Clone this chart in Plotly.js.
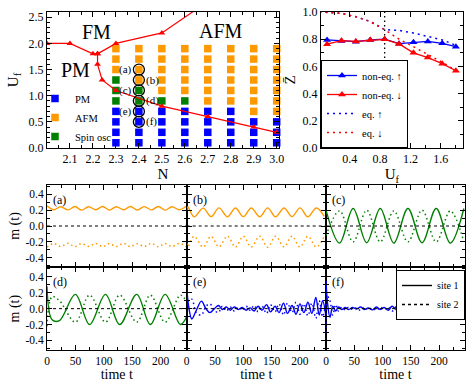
<!DOCTYPE html>
<html>
<head>
<meta charset="utf-8">
<script src="https://cdn.plot.ly/plotly-3.0.1.min.js"></script>
<style>
  html, body { margin: 0; padding: 0; background: #fff; }
  #chart { width: 474px; height: 382px; }
</style>
</head>
<body>
<div id="chart"></div>
<script>
/* phase diagram + Z-bar panel + six m(t) panels, all on one plotly figure */

// ---- phase diagram (N, U_f) ----
var phaseN = [2.3, 2.4, 2.5, 2.6, 2.7, 2.8, 2.9, 3.0];
var phaseU = [0.1, 0.3, 0.5, 0.7, 0.9, 1.1, 1.3, 1.5, 1.7, 1.9];
// one string per N column, U from 0.1 up to 1.9 : P = PM, A = AFM, S = spin osc
var phaseGrid = ["PPPPSSSAAA", "PPPPSSAAAA", "PPPPSAAAAA", "PPPPSAAAAA",
                 "PPPPAAAAAA", "PPPPAAAAAA", "PPPAAAAAAA", "PPPAAAAAAA"];
var fmN = [2.0, 2.1, 2.2, 2.22, 2.3, 2.5, 2.7];
var fmU = [2.0, 2.0, 1.8, 1.8, 2.0, 2.2, 2.8];
var pmN = [2.22, 2.22, 2.24, 2.3, 2.5, 2.7, 2.9, 3.0];
var pmU = [1.8, 1.6, 1.3, 1.1, 0.8, 0.6, 0.4, 0.3];
var circN = [2.4, 2.4, 2.4, 2.4, 2.4, 2.4];
var circU = [1.5, 1.3, 1.1, 0.9, 0.7, 0.5];
var circLabels = ["(a)", "(b)", "(c)", "(d)", "(e)", "(f)"];
var nTicks = [2.1, 2.2, 2.3, 2.4, 2.5, 2.6, 2.7, 2.8, 2.9, 3.0];
var nTickText = ["2.1", "2.2", "2.3", "2.4", "2.5", "2.6", "2.7", "2.8", "2.9", "3.0"];
var uTicks = [0, 0.5, 1.0, 1.5, 2.0, 2.5];
var uTickText = ["0.0", "0.5", "1.0", "1.5", "2.0", "2.5"];

// ---- Z-bar vs U_f ----
var zU = [0.1, 0.29, 0.48, 0.67, 0.86, 1.05, 1.24, 1.43, 1.62, 1.8];
var zUpNoneq = [0.795, 0.787, 0.782, 0.794, 0.800, 0.767, 0.777, 0.784, 0.770, 0.745];
var zDnNoneq = [0.763, 0.789, 0.784, 0.794, 0.799, 0.765, 0.700, 0.665, 0.620, 0.568];
var eqU = [0.0, 0.29, 0.48, 0.67, 0.86, 1.05, 1.24, 1.43, 1.62, 1.8];
var zUpEq = [1.0, 0.99, 0.965, 0.93, 0.87, 0.865, 0.845, 0.82, 0.795, 0.755];
var zDnEq = [1.0, 0.99, 0.965, 0.93, 0.87, 0.80, 0.745, 0.69, 0.63, 0.57];
var uCrit = 0.86;
var zxTicks = [0.4, 0.8, 1.2, 1.6];
var zxTickText = ["0.4", "0.8", "1.2", "1.6"];
var zyTicks = [0, 0.2, 0.4, 0.6, 0.8, 1.0];
var zyTickText = ["0.0", "0.2", "0.4", "0.6", "0.8", "1.0"];

// ---- m(t), site 1 / site 2 ----
var tA = [0, 12, 24, 37, 49, 61, 73, 86, 98, 110, 122, 135, 147, 159, 171, 184, 196, 208, 220, 233, 245];
var mA1 = [0.255, 0.205, 0.243, 0.203, 0.245, 0.2, 0.242, 0.205, 0.246, 0.2, 0.243, 0.204, 0.245, 0.201, 0.244, 0.203, 0.246, 0.2, 0.242, 0.205, 0.248];
var mA2 = [-0.265, -0.22, -0.258, -0.218, -0.26, -0.222, -0.257, -0.219, -0.26, -0.221, -0.258, -0.218, -0.26, -0.222, -0.257, -0.219, -0.26, -0.22, -0.258, -0.219, -0.26];

var tB = [0, 2, 13, 29, 43, 57, 72, 86, 100, 114, 129, 143, 157, 172, 186, 200, 214, 229, 243];
var mB1 = [0.2, 0.24, 0.115, 0.225, 0.118, 0.228, 0.115, 0.226, 0.118, 0.227, 0.116, 0.228, 0.115, 0.226, 0.118, 0.228, 0.115, 0.227, 0.12];
var mB2 = [-0.22, -0.26, -0.13, -0.265, -0.13, -0.262, -0.128, -0.265, -0.13, -0.263, -0.128, -0.266, -0.13, -0.262, -0.128, -0.265, -0.13, -0.264, -0.13];

var tC = [0, 24, 48, 72, 96, 120, 145, 170, 195, 220, 244];
var mC1 = [0.2, -0.215, 0.22, -0.21, 0.22, -0.215, 0.22, -0.21, 0.22, -0.215, 0.22];
var mC2 = [-0.12, 0.19, -0.2, 0.2, -0.2, 0.19, -0.2, 0.2, -0.2, 0.19, -0.2];

var tD = [0, 9, 22, 50, 75, 103, 128, 158, 182, 208, 235, 246];
var mD1 = [0.28, -0.14, -0.15, 0.18, -0.2, 0.18, -0.2, 0.18, -0.2, 0.18, -0.2, -0.1];
var mD2 = [-0.22, 0.15, 0.1, -0.17, 0.17, -0.17, 0.17, -0.17, 0.17, -0.17, 0.17, 0.08];

var tE = [0, 3, 9, 17, 26, 34, 41, 49, 56, 63, 70, 77, 84, 91, 98, 105, 112, 119, 126, 133, 141, 148, 156, 163, 171, 178, 186, 193, 200, 207, 214, 221, 228, 234, 240, 246];
var mE1 = [0.3, 0.05, -0.13, -0.02, 0.095, 0.0, -0.05, 0.0, 0.04, -0.01, 0.02, -0.02, 0.02, -0.01, 0.015, -0.02, 0.01, -0.03, 0.03, -0.02, 0.05, -0.04, 0.03, -0.05, 0.07, -0.06, 0.04, -0.07, 0.06, -0.05, 0.08, -0.06, 0.14, -0.08, 0.1, -0.1];
var mE2 = [-0.25, 0.1, 0.12, -0.05, -0.08, 0.03, 0.06, -0.02, -0.05, 0.03, -0.03, 0.02, -0.03, 0.02, -0.02, 0.03, -0.02, 0.04, -0.04, 0.03, -0.06, 0.05, -0.04, 0.06, -0.08, 0.07, -0.05, 0.08, -0.07, 0.06, -0.09, 0.07, -0.12, 0.1, -0.1, 0.1];

var tF = [0, 3, 7, 12, 17, 22, 28, 34, 40, 47, 54, 61, 68, 75, 82, 89, 96, 103, 110, 117, 124, 131, 138, 145, 152, 158, 164, 170, 177, 184, 191, 198, 205, 212, 219, 226, 233, 240, 246];
var mF1 = [0.35, 0.05, -0.11, 0.03, -0.03, 0.02, -0.01, 0.015, -0.01, 0.015, -0.005, 0.02, -0.01, 0.01, -0.015, 0.02, -0.01, 0.015, -0.02, 0.03, -0.01, 0.01, -0.02, 0.03, -0.03, 0.08, -0.04, 0.03, -0.02, 0.02, -0.01, 0.015, -0.01, 0.02, -0.015, 0.02, -0.01, 0.015, 0.0];
var mF2 = [-0.3, 0.15, 0.1, -0.08, 0.05, -0.03, 0.02, -0.015, 0.02, -0.01, 0.01, -0.02, 0.02, -0.015, 0.01, -0.02, 0.02, -0.01, 0.02, -0.03, 0.02, -0.015, 0.02, -0.03, 0.04, -0.06, 0.05, -0.03, 0.02, -0.02, 0.015, -0.01, 0.02, -0.015, 0.01, -0.02, 0.015, -0.01, 0.0];

var tTicks = [0, 50, 100, 150, 200];
var tTickText = ["0", "50", "100", "150", "200"];
var mTicks = [-0.4, -0.2, 0, 0.2, 0.4];
var mTickText = ["-0.4", "-0.2", "0.0", "0.2", "0.4"];

var FONT = '"Liberation Serif", "DejaVu Serif", serif';
var BLUE = "#0000ff", ORANGE = "#ff9900", GREEN = "#008000", RED = "#ff0000";
var W = 474, H = 382;
function px(a, b) { return [a / W, b / W]; }            // horizontal pixel span -> paper
function py(top, bot) { return [1 - bot / H, 1 - top / H]; }

var traces = [];

// phase squares, one trace per phase so the legend gets three entries
var phaseColor = { P: BLUE, A: ORANGE, S: GREEN };
var phaseName = { P: "PM", A: "AFM", S: "Spin osc" };
["P", "A", "S"].forEach(function (code) {
  var xs = [], ys = [];
  phaseN.forEach(function (n, i) {
    phaseU.forEach(function (u, j) {
      if (phaseGrid[i].charAt(j) === code) { xs.push(n); ys.push(u); }
    });
  });
  traces.push({
    x: xs, y: ys, xaxis: "x", yaxis: "y", type: "scatter", mode: "markers",
    name: phaseName[code], legend: "legend3", cliponaxis: false,
    marker: { symbol: "square", size: 7.5, color: phaseColor[code] }
  });
});
[[fmN, fmU], [pmN, pmU]].forEach(function (b) {
  traces.push({
    x: b[0], y: b[1], xaxis: "x", yaxis: "y", type: "scatter", mode: "lines+markers",
    showlegend: false, line: { color: RED, width: 1.2 },
    marker: { symbol: "triangle-up", size: 6, color: RED }
  });
});
traces.push({
  x: circN, y: circU, xaxis: "x", yaxis: "y", type: "scatter", mode: "markers", showlegend: false,
  marker: { symbol: "circle-open", size: 11, color: "#000", line: { width: 1.3, color: "#000" } }
});

// Z-bar panel
traces.push({ x: [uCrit, uCrit], y: [0, 1], xaxis: "x2", yaxis: "y2", mode: "lines", showlegend: false,
  line: { color: "#000", width: 1.3, dash: "1.5px,3px" } });
traces.push({ x: eqU, y: zUpEq, xaxis: "x2", yaxis: "y2", mode: "lines", name: "eq. \u2191", legendrank: 3,
  line: { color: BLUE, width: 1.5, dash: "2px,4px" } });
traces.push({ x: eqU, y: zDnEq, xaxis: "x2", yaxis: "y2", mode: "lines", name: "eq. \u2193", legendrank: 4,
  line: { color: RED, width: 1.5, dash: "2px,4px" } });
traces.push({ x: zU, y: zUpNoneq, xaxis: "x2", yaxis: "y2", mode: "lines+markers", name: "non-eq. \u2191", legendrank: 1,
  line: { color: BLUE, width: 1.3 }, marker: { symbol: "triangle-up", size: 7, color: BLUE } });
traces.push({ x: zU, y: zDnNoneq, xaxis: "x2", yaxis: "y2", mode: "lines+markers", name: "non-eq. \u2193", legendrank: 2,
  line: { color: RED, width: 1.3 }, marker: { symbol: "triangle-up", size: 7, color: RED } });

// m(t) panels
var panels = [
  { t: tA, s1: mA1, s2: mA2, c: ORANGE, lab: "(a)" },
  { t: tB, s1: mB1, s2: mB2, c: ORANGE, lab: "(b)" },
  { t: tC, s1: mC1, s2: mC2, c: GREEN, lab: "(c)" },
  { t: tD, s1: mD1, s2: mD2, c: GREEN, lab: "(d)" },
  { t: tE, s1: mE1, s2: mE2, c: BLUE, lab: "(e)" },
  { t: tF, s1: mF1, s2: mF2, c: BLUE, lab: "(f)" }
];
panels.forEach(function (p, k) {
  var xa = "x" + (k + 3), ya = "y" + (k + 3);
  traces.push({ x: p.t, y: p.s2, xaxis: xa, yaxis: ya, mode: "lines", showlegend: false,
    line: { color: p.c, width: 1.5, dash: "1.5px,3px", shape: "spline", smoothing: 1 } });
  traces.push({ x: p.t, y: p.s1, xaxis: xa, yaxis: ya, mode: "lines", showlegend: false,
    line: { color: p.c, width: 1.4, shape: "spline", smoothing: 1 } });
});
traces.push({ x: [null], y: [null], xaxis: "x8", yaxis: "y8", mode: "lines", name: "site 1", legend: "legend2",
  line: { color: "#000", width: 1.4 } });
traces.push({ x: [null], y: [null], xaxis: "x8", yaxis: "y8", mode: "lines", name: "site 2", legend: "legend2",
  line: { color: "#000", width: 1.5, dash: "3px,3px" } });

function axis(dom, range, tv, tt, minorD, showLab, extra) {
  var a = {
    domain: dom, range: range, anchor: null, showline: true, linecolor: "#000", linewidth: 1,
    mirror: "allticks", ticks: "inside", ticklen: 5, tickwidth: 1, tickcolor: "#000",
    tickmode: "array", tickvals: tv, ticktext: tt, showticklabels: showLab,
    tickfont: { family: FONT, size: 12, color: "#000" },
    showgrid: false, zeroline: false, fixedrange: true,
    minor: { ticks: "inside", ticklen: 3, tickwidth: 1, tickcolor: "#000", dtick: minorD, showgrid: false }
  };
  for (var k in extra) a[k] = extra[k];
  return a;
}
function ttl(text, size, standoff) {
  return { text: text, font: { family: FONT, size: size, color: "#000" }, standoff: standoff };
}

var colX = [px(47, 186.7), px(186.7, 326), px(326, 465)];
var rowY = [py(184.7, 267.3), py(267.3, 350)];

var layout = {
  width: W, height: H, margin: { l: 0, r: 0, t: 0, b: 0 },
  paper_bgcolor: "#fff", plot_bgcolor: "rgba(0,0,0,0)",
  font: { family: FONT, color: "#000" },
  xaxis: axis(px(47, 279), [2.0, 3.01], nTicks, nTickText, 0.05, true,
    { anchor: "y", title: ttl("N", 15, 2) }),
  yaxis: axis(py(12, 148), [0, 2.6], uTicks, uTickText, 0.1, true,
    { anchor: "x", title: ttl("U<sub>f</sub>", 15, 6) }),
  xaxis2: axis(px(321, 462.7), [0.02, 1.89], zxTicks, zxTickText, 0.2, true,
    { anchor: "y2", title: ttl("U<sub>f</sub>", 15, 2) }),
  yaxis2: axis(py(12, 148), [0, 1], zyTicks, zyTickText, 0.1, true,
    { anchor: "x2", title: ttl("Z\u0304", 15, 3) }),
  legend: {
    x: 321 / W, xanchor: "left", y: 1 - 148 / H, yanchor: "bottom",
    bgcolor: "#fff", bordercolor: "#000", borderwidth: 1,
    font: { family: FONT, size: 10.5, color: "#000" }, itemwidth: 30, tracegroupgap: 0
  },
  legend2: {
    x: 465 / W, xanchor: "right", y: 1 - 270 / H, yanchor: "top",
    bgcolor: "#fff", bordercolor: "#000", borderwidth: 1,
    font: { family: FONT, size: 10, color: "#000" }, itemwidth: 30
  },
  legend3: {
    x: 35 / W, xanchor: "left", y: 1 - 84 / H, yanchor: "top",
    bgcolor: "rgba(0,0,0,0)", borderwidth: 0,
    font: { family: FONT, size: 10.5, color: "#000" }, itemwidth: 30
  },
  shapes: [],
  annotations: [
    { xref: "x", yref: "y", x: 2.217, y: 2.22, text: "FM", showarrow: false, font: { family: FONT, size: 20 } },
    { xref: "x", yref: "y", x: 2.757, y: 2.23, text: "AFM", showarrow: false, font: { family: FONT, size: 20 } },
    { xref: "x", yref: "y", x: 2.122, y: 1.49, text: "PM", showarrow: false, font: { family: FONT, size: 20 } }
  ]
};

circLabels.forEach(function (lab, i) {
  var left = i % 2 === 0;
  layout.annotations.push({
    xref: "x", yref: "y", x: circN[i], y: circU[i], text: lab, showarrow: false,
    xanchor: left ? "right" : "left", xshift: left ? -5 : 5,
    font: { family: FONT, size: 11 }
  });
});

panels.forEach(function (p, k) {
  var col = k % 3, row = Math.floor(k / 3);
  var xn = "xaxis" + (k + 3), yn = "yaxis" + (k + 3);
  var xa = "x" + (k + 3), ya = "y" + (k + 3);
  var xExtra = { anchor: ya };
  var yExtra = { anchor: xa };
  if (row === 1) xExtra.title = ttl("time t", 14, 1);
  if (col === 0) yExtra.title = ttl("m (t)", 14, 2);
  layout[xn] = axis(colX[col], [0, 246], tTicks, tTickText, 25, row === 1, xExtra);
  layout[yn] = axis(rowY[row], [-0.52, 0.52], mTicks, mTickText, 0.1, col === 0, yExtra);
  layout[xn].tickfont.size = 11.5;
  layout[yn].tickfont.size = 11.5;
  layout.shapes.push({ type: "line", xref: xa + " domain", x0: 0, x1: 1, yref: ya, y0: 0, y1: 0,
    line: { color: "#000", width: 1, dash: "3px,3px" } });
  layout.annotations.push({ xref: xa + " domain", yref: ya + " domain", x: 0, y: 1, xanchor: "left", yanchor: "top",
    xshift: 4, yshift: -6, text: p.lab, showarrow: false, font: { family: FONT, size: 12 } });
});

Plotly.newPlot("chart", traces, layout, { displayModeBar: false, responsive: false, staticPlot: true });
</script>
</body>
</html>
